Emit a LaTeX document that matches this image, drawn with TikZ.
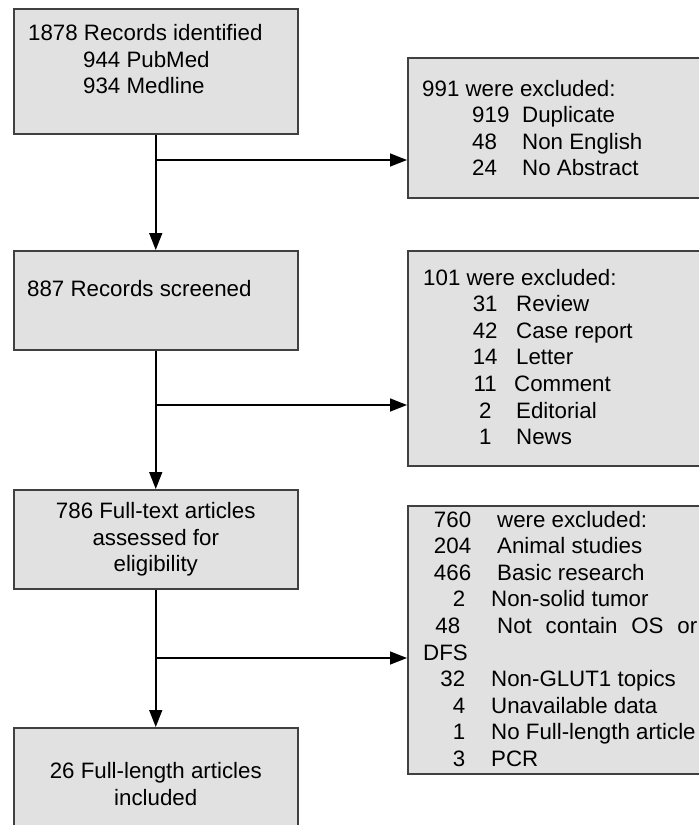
\documentclass[tikz,border=0pt]{standalone}
\usepackage{fontspec}
\setmainfont{Liberation Sans}
\usetikzlibrary{arrows.meta}
\newlength{\du}
\setlength{\du}{15\unitlength}
\newcommand{\flowfont}{\fontsize{22.3}{26.6}\selectfont}
\tikzset{
  stagebox/.style={draw=dialineborder, fill=dialinefill, line width=0.1\du, inner sep=0pt, anchor=north west, align=center, font=\flowfont},
  exclbox/.style={stagebox, minimum width=20.866667\du},
  flowtext/.style={inner sep=0pt, anchor=base west, font=\flowfont},
  flowarrow/.style={draw=dialinecolor, line width=0.1\du, -{Triangle[length=17pt,width=13pt]}}
}

\begin{document}
\begin{tikzpicture}
\pgftransformxscale{1.000000}
\pgftransformyscale{-1.000000}
\definecolor{dialinecolor}{rgb}{0.000000, 0.000000, 0.000000}
\definecolor{dialinefill}{rgb}{0.882353, 0.882353, 0.882353}
\definecolor{dialineborder}{rgb}{0.250000, 0.250000, 0.250000}
\useasboundingbox (0\du,0\du) rectangle (46.600000\du,55.000000\du);
\clip (0\du,0\du) rectangle (46.600000\du,55.000000\du);
% left column
\node[stagebox, minimum width=18.933333\du, minimum height=8.333333\du] (identified) at (0.866667\du,0.533333\du){};
\node[flowtext] (identifiedtext) at (1.866667\du,2.700000\du){\begin{tabular}[t]{@{}l@{}}1878 Records identified\\\hspace*{55pt}944 PubMed\\\hspace*{55pt}934 Medline\end{tabular}};
\node[stagebox, minimum width=18.933333\du, minimum height=6.600000\du] (screened) at (0.866667\du,16.666667\du){};
\node[flowtext] (screenedtext) at (1.800000\du,19.733333\du){887 Records screened};
\node[stagebox, minimum width=18.933333\du, minimum height=6.600000\du] (assessed) at (0.866667\du,32.600000\du){786 Full-text articles\\assessed for\\eligibility};
\node[stagebox, minimum width=18.933333\du, minimum height=7.533333\du] (included) at (0.866667\du,48.466667\du){26 Full-length articles\\included};
% right column
\node[exclbox, minimum height=9.333333\du] (excl1) at (27.133333\du,3.800000\du){};
\node[flowtext] (excl1text) at (28.133333\du,6.400000\du){\begin{tabular}[t]{@{}l@{}}
991 were excluded:\\
\hspace*{50pt}\makebox[50pt][l]{919}Duplicate\\
\hspace*{50pt}\makebox[50pt][l]{48}Non English\\
\hspace*{50pt}\makebox[50pt][l]{24}No Abstract
\end{tabular}};
\node[exclbox, minimum height=14.333333\du] (excl2) at (27.133333\du,16.666667\du){};
\node[flowtext] (excl2text) at (28.200000\du,19.000000\du){\begin{tabular}[t]{@{}l@{}}
101 were excluded:\\
\hspace*{49pt}\makebox[26pt][c]{31}\hspace*{18pt}Review\\
\hspace*{49pt}\makebox[26pt][c]{42}\hspace*{18pt}Case report\\
\hspace*{49pt}\makebox[26pt][c]{14}\hspace*{18pt}Letter\\
\hspace*{49pt}\makebox[26pt][c]{11}\hspace*{16pt}Comment\\
\hspace*{49pt}\makebox[26pt][c]{2}\hspace*{18pt}Editorial\\
\hspace*{49pt}\makebox[26pt][c]{1}\hspace*{18pt}News
\end{tabular}};
\node[exclbox, minimum height=17.866667\du] (excl3) at (27.133333\du,33.666667\du){};
\node[flowtext] (excl3text) at (28.200000\du,35.133333\du){\begin{tabular}[t]{@{}l@{}}
\makebox[48pt][r]{760}\hspace*{26pt}were excluded:\\
\makebox[48pt][r]{204}\hspace*{26pt}Animal studies\\
\makebox[48pt][r]{466}\hspace*{26pt}Basic research\\
\makebox[42pt][r]{2}\hspace*{26pt}Non-solid tumor\\
\makebox[37pt][r]{48}\hspace*{37pt}\makebox[200pt][s]{Not\hfill contain\hfill OS\hfill or}\\
DFS\\
\makebox[42pt][r]{32}\hspace*{26pt}Non-GLUT1 topics\\
\makebox[42pt][r]{4}\hspace*{26pt}Unavailable data\\
\makebox[42pt][r]{1}\hspace*{26pt}No Full-length article\\
\makebox[42pt][r]{3}\hspace*{26pt}PCR
\end{tabular}};
% connectors
\draw[flowarrow] (identified.south) -- (screened.north);
\draw[flowarrow] (screened.south) -- (assessed.north);
\draw[flowarrow] (assessed.south) -- (included.north);
\coordinate (split1) at (10.333333\du,10.666667\du);
\coordinate (split2) at (10.333333\du,27.000000\du);
\coordinate (split3) at (10.333333\du,43.866667\du);
\draw[flowarrow] (split1) -- (split1 -| excl1.west);
\draw[flowarrow] (split2) -- (split2 -| excl2.west);
\draw[flowarrow] (split3) -- (split3 -| excl3.west);
\end{tikzpicture}
\end{document}
